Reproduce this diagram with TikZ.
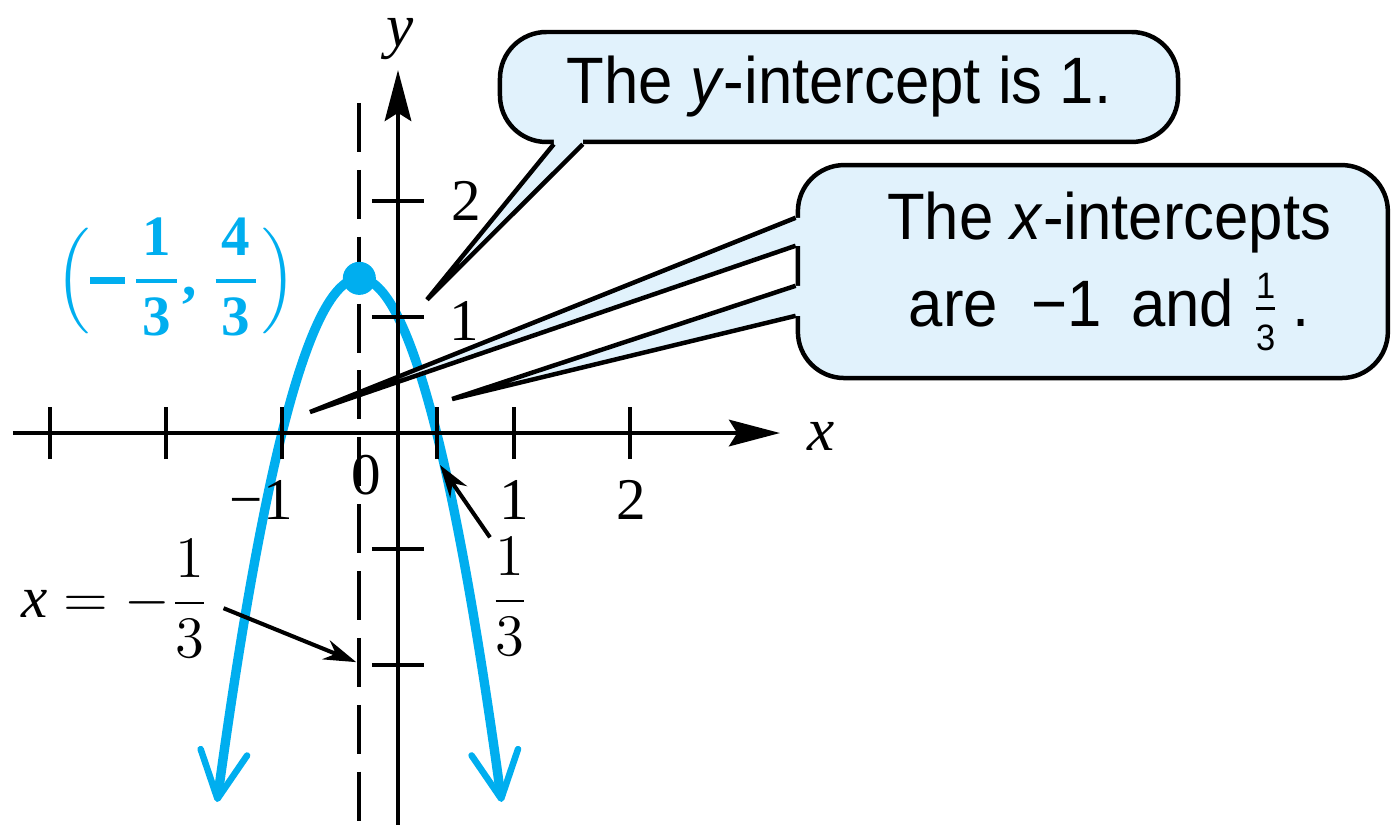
\documentclass[tikz,border=0pt]{standalone}
\usepackage{amsmath}
\usepackage{fontspec}
\setmainfont{Liberation Serif}
\newfontfamily\bubfont[FakeStretch=0.94]{Liberation Sans}
\usetikzlibrary{arrows.meta,calc}
\definecolor{Cv}{HTML}{00AEEF}
\definecolor{Bf}{HTML}{E1F2FC}
\tikzset{
  ax/.style={line width=1pt, -{Stealth[length=12.5pt, width=6.5pt, inset=2pt]}},
  tk/.style={line width=1pt},
  sym/.style={line width=1pt, dash pattern=on 12pt off 4.4pt},
  curve/.style={Cv, line width=2.3pt, arrows={Straight Barb[length=11.5pt, width=11.5pt, line width=1.6pt, round]-Straight Barb[length=11.5pt, width=11.5pt, line width=1.6pt, round]}},
  vdot/.style={circle, fill=Cv, inner sep=0pt, minimum size=0.285cm},
  lab/.style={inner sep=0pt, font=\fontsize{14.5}{17}\selectfont},
  vlab/.style={inner sep=0pt, text=Cv, font=\fontsize{14}{17}\selectfont},
  bubble/.style={draw, fill=Bf, line width=1.1pt, rounded corners=0.4cm, inner sep=0pt, font=\bubfont\fontsize{16.1}{21.3}\selectfont},
  wedge/.style={line width=1.1pt, line join=miter},
  note/.style={line width=1pt, -{Stealth[length=8pt, width=5pt]}},
}
\newcommand{\callfrac}[2]{\ensuremath{\frac{\hbox{\bubfont\fontsize{9}{9}\selectfont#1}}{\hbox{\bubfont\fontsize{9}{9}\selectfont#2}}}}
\newcommand{\bfrac}[2]{\genfrac{}{}{1pt}{0}{\textbf{\hspace{1.5pt}#1\hspace{1.5pt}}}{\textbf{#2}}}
\newcommand{\bminus}{\vcenter{\hbox{\rule{8.5pt}{1.7pt}}}\mkern2mu}
% tail of a bubble: base a, base b, tip, push into the box
\newcommand{\bubtail}[4]{%
  \fill[Bf] ($(#1)+#4$) -- (#1) -- (#3) -- (#2) -- ($(#2)+#4$) -- cycle;
  \draw[wedge] (#1) -- (#3) -- (#2);}

\begin{document}
\begin{tikzpicture}
  \useasboundingbox (-3.431,-3.371) rectangle (8.560,3.733);
  % parabola
  \draw[curve] plot[domain=-1.56:0.894, samples=60, smooth] (\x,{-3*\x*\x-2*\x+1});
  % axes
  \coordinate (xs) at (-3.32,0); \coordinate (xe) at (3.293,0);
  \coordinate (ys) at (0,-3.40); \coordinate (ye) at (0,3.129);
  \draw[ax] (xs) -- (xe);
  \draw[ax] (ys) -- (ye);
  \foreach \t in {-3,-2,-1,1/3,1,2} \draw[tk] (\t,-0.225) -- (\t,0.225);
  \foreach \t in {-2,-1,1,2} \draw[tk] (-0.225,\t) -- (0.225,\t);
  \node[lab, font=\fontsize{15}{18}\selectfont] (xlab) at (3.65,-0.03) {\textit{x}};
  \node[lab, font=\fontsize{15}{18}\selectfont] (ylab) at (0.02,3.40) {\textit{y}};
  \node[lab] (n0) at (-0.276,-0.362) {0};
  \node[lab] (nm1) at (-1.18,-0.578) {−1};
  \node[lab] (n1) at (1.0,-0.578) {1};
  \node[lab] (n2) at (2.01,-0.578) {2};
  \node[lab] (v1) at (0.57,0.966) {1};
  \node[lab] (v2) at (0.586,2.0) {2};
  % axis of symmetry and vertex
  \draw[sym] (-1/3,2.845) -- (-1/3,-3.40);
  \node[vdot] (vtx) at (-1/3,4/3) {};
  \node[vlab, anchor=east] (vl) at (-0.87,1.345) {$\Bigl(\bminus\bfrac{1}{3}\textbf{,}\ \bfrac{4}{3}\Bigr)$};
  % small labels with arrows
  \node[lab] (axl) at (-2.44,-1.43) {$\textit{x} = -\dfrac{1}{3}$};
  \node[lab] (thl) at (0.966,-1.414) {$\dfrac{1}{3}$};
  \coordinate (symhit) at (-0.36,-1.975);
  \coordinate (xrhit) at (0.362,-0.276);
  \draw[note] ($(axl.east)+(0.12,-0.08)$) -- (symhit);
  \draw[note] (thl.north west) -- (xrhit);
  % bubbles
  \node[bubble, minimum width=5.845cm, minimum height=0.948cm] (yb) at (3.8015,2.983) {The \textit{y}-intercept is 1.};
  \node[bubble, minimum width=5.086cm, minimum height=1.836cm, align=center] (xb) at (5.99,1.392) {\hspace*{0.28cm}The \textit{x}-intercepts\\\hspace*{0.28cm}are\hspace{4pt} −1\hspace{3pt} and \callfrac{1}{3}\hspace{3pt}.};
  \coordinate (ya) at ($(yb.south west)+(0.483,0)$);
  \coordinate (yc) at ($(yb.south west)+(0.733,0)$);
  \coordinate (yhit) at (0.25,1.15);
  \coordinate (xa1) at ($(xb.north west)+(0,-0.474)$);
  \coordinate (xa2) at ($(xb.north west)+(0,-0.715)$);
  \coordinate (xc1) at ($(xb.north west)+(0,-1.06)$);
  \coordinate (xc2) at ($(xb.north west)+(0,-1.319)$);
  \coordinate (xlhit) at (-0.759,0.181);
  \coordinate (xrtip) at (0.466,0.293);
  \bubtail{ya}{yc}{yhit}{(0,0.05)}
  \bubtail{xa1}{xa2}{xlhit}{(0.05,0)}
  \bubtail{xc1}{xc2}{xrtip}{(0.05,0)}
\end{tikzpicture}
\end{document}
